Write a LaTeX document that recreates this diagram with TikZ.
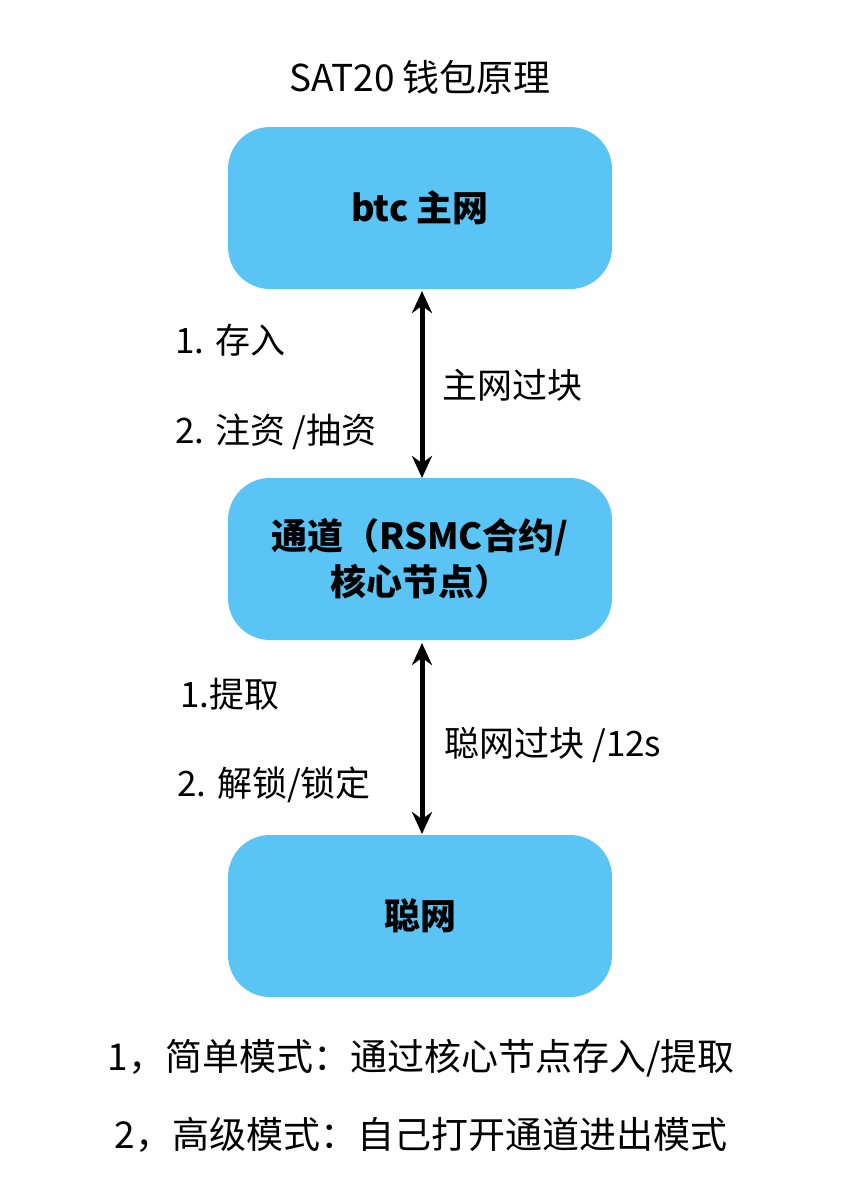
\documentclass[tikz,border=0pt]{standalone}
\usepackage{fontspec}
\setmainfont{Noto Sans CJK SC}
\usetikzlibrary{arrows.meta}
\definecolor{boxc}{HTML}{5AC4F5}
\begin{document}
\begin{tikzpicture}[x=1pt,y=-1pt,
  box/.style={fill=boxc,draw=none,rounded corners=42pt,minimum width=384pt,minimum height=162pt,font=\fontsize{36}{46}\selectfont\bfseries,align=center},
  lbl/.style={font=\fontsize{35}{40}\selectfont,anchor=west},
  arr/.style={{Stealth[length=22pt,width=20pt]}-{Stealth[length=22pt,width=20pt]},line width=5pt}]
\useasboundingbox (0,0) rectangle (855,1200);
\node[font=\fontsize{37}{42}\selectfont] (title) at (420,77) {SAT20 钱包原理};
\node[box] (btc) at (420,208) {btc 主网};
\node[box] (ch) at (420,559) {通道（RSMC合约/\\核心节点）};
\node[box] (sat) at (420,916) {聪网};
\draw[arr] (422,291) coordinate (a1) -- (422,478) coordinate (a2);
\draw[arr] (422,643) coordinate (b1) -- (422,834) coordinate (b2);
\node[lbl] (l1) at (172,340) {1. 存入};
\node[lbl] (l2) at (172,432) {2. 注资 /抽资};
\node[lbl] (l3) at (439,385) {主网过块};
\node[lbl] (l4) at (177,694) {1.提取};
\node[lbl] (l5) at (174,785) {2. 解锁/锁定};
\node[lbl] (l6) at (441,745) {聪网过块 /12s};
\node[font=\fontsize{37}{42}\selectfont] (n1) at (421,1058) {1，简单模式：通过核心节点存入/提取};
\node[font=\fontsize{37}{42}\selectfont] (n2) at (421,1135) {2，高级模式：自己打开通道进出模式};
\end{tikzpicture}
\end{document}
